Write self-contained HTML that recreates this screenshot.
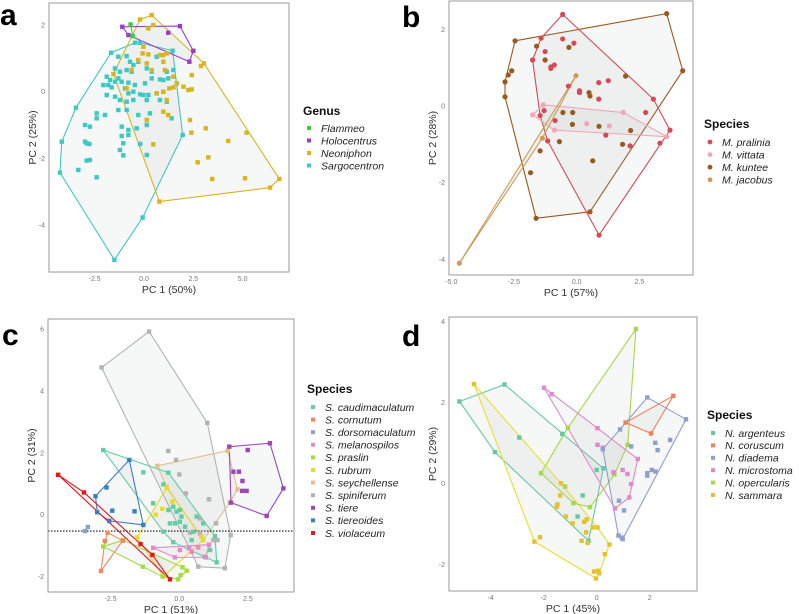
<!DOCTYPE html>
<html><head><meta charset="utf-8"><style>
body{margin:0;background:#fff}
svg{display:block;font-family:"Liberation Sans",sans-serif}
</style></head><body>
<svg id="fig" width="799" height="614" viewBox="0 0 799 614"></svg>
<script>
// ---------- Panel a data ----------
const aSargocentron=[[-1.5,-5.05],[-4.26,-2.43],[-4.17,-1.5],[-3.45,-0.48],[-1.67,1.17],[-0.46,1.47],[-0.2,1.47],[1.45,1.23],[1.49,0.65],[1.96,-1.3],[-0.07,-3.78],[-1.3,1.05],[-0.88,1.07],[-0.71,0.9],[-0.29,0.9],[-1.47,0.7],[-1.22,0.6],[-0.88,0.65],[-0.63,0.6],[-0.54,0.8],[0.14,0.7],[0.39,0.6],[0.64,1.05],[-1.89,0.45],[-1.72,0.35],[-1.47,0.3],[-1.3,0.4],[-2.06,0.2],[-1.81,0.2],[-1.64,0.13],[-1.13,0.3],[-0.79,0.27],[-0.46,0.2],[0.05,0.25],[0.39,0.4],[0.81,0.37],[0.98,0.35],[1.15,0.6],[1.23,0.4],[-0.96,0.1],[-0.79,-0.05],[-0.54,0],[-0.2,-0.08],[-0.03,-0.1],[0.22,-0.1],[0.64,-0.05],[0.98,0],[-1.89,-0.1],[-1.47,-0.15],[-1.22,-0.25],[-0.88,-0.3],[-0.54,-0.25],[0.14,-0.25],[0.81,-0.25],[1.15,-0.3],[-1.3,-0.55],[-0.88,-0.55],[-0.29,-0.7],[0.3,-0.65],[-2.4,-0.65],[-1.98,-0.7],[-2.4,-0.8],[-2.99,-1.0],[-2.74,-1.05],[-1.13,-1.05],[-0.79,-1.15],[-0.37,-1.1],[0.14,-1.0],[1.4,-0.8],[-2.99,-1.5],[-2.91,-1.55],[-2.77,-1.57],[-1.13,-1.33],[-0.79,-1.3],[-1.05,-1.55],[-0.2,-1.57],[-1.22,-1.75],[-1.05,-1.91],[0.14,-1.9],[-2.91,-2.07],[-2.74,-2.05],[-3.33,-2.35],[-2.4,-2.57]];
const aNeoniphon=[[-1.55,0.53],[-0.2,2.17],[0.39,2.3],[3.04,0.85],[2.89,0.77],[5.2,-1.23],[6.86,-2.62],[6.39,-2.88],[0.78,-3.3],[0.47,2.0],[0.22,1.9],[-0.03,1.35],[-0.07,1.15],[0.22,1.12],[0.81,1.1],[0.98,1.1],[1.15,1.15],[-0.29,0.95],[0.14,0.85],[0.98,0.9],[0.39,0.65],[1.06,0.65],[1.49,0.45],[1.66,0.25],[2.42,0.5],[2.0,0.15],[2.25,0.05],[2.42,0.07],[1.28,0.1],[1.49,0.13],[0.64,-0.05],[0.98,0],[1.15,-0.25],[0.98,-0.6],[1.23,-0.7],[0.14,-0.85],[2.33,-0.85],[3.13,-1.1],[2.4,-1.23],[4.27,-1.48],[0.47,-1.58],[3.26,-1.97],[2.72,-2.12],[3.46,-2.62],[5.12,-2.6],[-0.63,0.65],[-0.88,0.1]];
const aHolocentrus=[[-1.1,1.95],[-0.79,1.7],[1.82,1.97],[1.23,1.77],[2.5,1.23],[2.3,0.9]];
const aFlammeo=[[-0.68,2.02],[-0.57,1.67]];
const aTicksX=[-2.5,0,2.5,5],aTicksY=[-4,-2,0,2];
// ---------- Panel b data ----------
const bPralinia=[[-0.56,2.39],[-1.76,1.2],[-1.42,1.77],[3.72,-0.63],[3.32,-0.97],[0.89,-3.37],[-1.16,-0.91],[3.06,0.18],[-0.56,1.75],[-0.11,1.64],[-1.26,1.42],[-0.89,1.07],[-1.03,1.02],[-1.03,0.98],[-0.33,0.52],[0.11,0.4],[0.11,0.35],[0.88,0.61],[1.26,0.66],[0.88,0.18],[-1.3,-0.12],[-1.46,-0.25],[-0.86,-0.38],[2.75,-0.17],[1.16,-0.76],[2.13,-1.04]];
const bVittata=[[-1.76,-0.23],[-1.33,0.03],[1.86,-0.17],[3.59,-0.8],[-0.89,-0.63],[0.4,-0.46],[1.3,-0.52]];
const bKuntee=[[-2.46,1.7],[3.59,2.41],[4.23,0.92],[0.53,-2.76],[-1.62,-2.93],[-2.86,0.24],[-2.86,0.63],[-2.73,0.81],[-2.59,0.92],[-1.6,1.56],[-1.26,1.2],[-0.31,1.53],[0.49,0.35],[0.53,0.26],[1.95,0.78],[-0.55,-0.17],[-0.16,-0.17],[-0.17,-0.48],[0.89,-0.53],[2.15,-0.64],[1.83,-1.0],[0.64,-1.43],[-0.69,-0.93],[-1.46,-1.17],[-1.84,-1.74]];
const bJacobus=[[-4.68,-4.1],[-0.03,0.79],[-1.37,-0.84]];
const bTicksX=[-5,-2.5,0,2.5],bTicksY=[-4,-2,0,2];
// ---------- Panel c data ----------
const cCaudimaculatum=[[-2.77,2.09],[-0.4,1.36],[1.36,-1.54],[0.93,-1.36],[1.3,-0.69],[-0.95,0.37],[-1.31,1.37],[-0.58,0.98],[-0.4,0.15],[-0.22,0.26],[-0.1,0.1],[0.02,0.15],[0.08,-0.06],[-0.34,-0.28],[-0.16,-0.28],[0.02,-0.23],[0.21,-0.39],[-0.58,-0.55],[-0.22,-0.89],[0.51,-0.55],[0.63,-0.06],[0.87,-0.28],[0.45,-0.82],[1.12,-1.14]];
const cCornutum=[[-2.61,-0.58],[-2.71,-0.85],[-2.85,-1.82],[-2.06,-0.84]];
const cDorsomaculatum=[[-3.43,-0.53],[-3.33,-0.4]];
const cMelanospilos=[[-0.95,-1.07],[1.08,-0.97],[0.97,-1.38],[-0.16,-1.38],[0.36,-1.09],[0.02,-1.14],[0.69,-1.06],[0.45,-1.2]];
const cPraslin=[[-2.77,-1.03],[-2.04,-0.82],[-1.33,-1.68],[-0.04,-2.09],[0.27,-1.81],[0.12,-1.7],[0.05,-1.95],[-0.61,-2.0]];
const cRubrum=[[-1.53,-0.73],[-0.46,0.87],[0.87,-0.82],[-0.58,-2.0],[-0.86,0],[-0.62,0.19],[-0.25,0.42],[0.81,-0.71]];
const cSeychellense=[[-0.8,1.58],[1.76,2.07],[2.12,0.82],[1.84,0.39],[0.87,-0.82],[-0.46,0.9]];
const cSpiniferum=[[-2.83,4.76],[-1.1,5.92],[1.02,2.97],[1.87,-0.66],[1.66,-1.73],[0.69,-1.68],[-0.4,2.06],[-0.12,1.77],[0,1.3],[0.24,0.69],[1.08,0.5],[1.34,-0.28],[0.75,-0.12],[0.39,-0.58],[1.24,-0.82],[1.39,-0.82],[0.75,-0.6]];
const cTiere=[[1.82,2.2],[3.3,2.31],[3.79,0.85],[3.18,-0.04],[1.88,0.39],[2.49,2.09],[1.97,1.39],[2.17,1.39],[2.3,1.09],[2.29,0.77],[2.45,0.77]];
const cTiereoides=[[-1.82,1.77],[-3.05,0.6],[-2.99,0.08],[-1.31,-0.33],[-2.65,0.88],[-2.44,0.13],[-1.63,0.11],[-2.55,-0.2]];
const cViolaceum=[[-4.41,1.29],[-3.47,0.72],[-1.41,-0.95],[-0.98,-1.3],[-0.34,-2.09]];
const cRefLine=-0.53;
const cTicksX=[-2.5,0,2.5],cTicksY=[-2,0,2,4,6];
// ---------- Panel d data ----------
const dArgenteus=[[-5.18,2.02],[-3.48,2.44],[0.25,0.37],[-0.31,-1.42],[-3.84,0.77],[-2.92,1.13],[-1.3,1.22],[0,0.33],[-0.53,-0.3],[-0.72,-0.82]];
const dCoruscum=[[1.09,1.5],[2.89,2.16],[2.05,1.23]];
const dDiadema=[[1.91,2.12],[3.37,1.58],[0.98,-1.38],[0.82,-1.29],[0.23,0.84],[0.88,1.33],[1.3,0.91],[2.21,1.0],[2.3,0.82],[2.77,1.07],[2.08,0.33],[1.91,0.25],[1.91,0.19],[2.22,0.29],[0.84,-0.43],[1.03,-0.67],[0.94,-1.34]];
const dMicrostoma=[[-1.99,2.36],[-1.7,2.2],[0.03,1.36],[1.55,0.6],[1.23,-0.35],[0.69,-0.62],[0.03,0.95],[0.63,0.27],[0.98,0.33],[1.16,0.23],[1.3,-0.02],[0.23,0.88]];
const dOpercularis=[[1.48,3.81],[-2.1,0.25],[-0.88,-0.49],[-0.25,-0.59],[1.17,0.95],[-1.09,1.37],[0.67,0.22],[-1.19,-0.08]];
const dSammara=[[-4.63,2.45],[-2.35,-1.44],[-0.03,-2.35],[0.48,-1.51],[0.31,-1.75],[-1.35,0],[-1.38,-0.3],[-1.48,-0.52],[-1.51,-0.58],[-1.16,-0.82],[-0.91,-0.99],[-0.47,-0.95],[-0.38,-0.89],[-0.15,-1.09],[0.03,-1.09],[-0.4,-1.21],[-0.57,-1.42],[-0.34,-1.47],[-2.14,-1.33],[0.06,-2.16],[0.1,-2.22],[-0.1,-2.18]];
const dTicksX=[-4,-2,0,2],dTicksY=[-2,0,2,4];

const NS="http://www.w3.org/2000/svg";
const svg=document.getElementById('fig');
function mk(tag,attrs,parent){const e=document.createElementNS(NS,tag);for(const k in attrs)e.setAttribute(k,attrs[k]);(parent||svg).appendChild(e);return e;}
function hull(pts){
  const p=pts.slice().sort((a,b)=>a[0]-b[0]||a[1]-b[1]);
  if(p.length<3)return p;
  const cr=(o,a,b)=>(a[0]-o[0])*(b[1]-o[1])-(a[1]-o[1])*(b[0]-o[0]);
  const lo=[],up=[];
  for(const q of p){while(lo.length>=2&&cr(lo[lo.length-2],lo[lo.length-1],q)<=0)lo.pop();lo.push(q);}
  for(let i=p.length-1;i>=0;i--){const q=p[i];while(up.length>=2&&cr(up[up.length-2],up[up.length-1],q)<=0)up.pop();up.push(q);}
  up.pop();lo.pop();return lo.concat(up);
}
function panel(cfg){
  const g=mk('g',{});
  
  
  const X=v=>cfg.x0+v*cfg.kx, Y=v=>cfg.y0-v*cfg.ky;
  const [bx1,by1,bx2,by2]=cfg.box;
  const bg=mk('rect',{x:bx1,y:by1,width:bx2-bx1,height:by2-by1,fill:'#fff'},g);
  
  
  // hulls
  cfg.series.forEach(s=>{
    const h=hull(s.pts);
    const poly=mk('polygon',{points:h.map(p=>X(p[0])+','+Y(p[1])).join(' '),fill:'rgba(170,175,175,0.10)',stroke:s.line||s.color,'stroke-width':1.1,'stroke-linejoin':'round'},g);
    
    
  });
  if(cfg.refLine!==undefined){
    const l=mk('line',{x1:bx1,x2:bx2,y1:Y(cfg.refLine),y2:Y(cfg.refLine),stroke:'#111','stroke-width':1.1,'stroke-dasharray':'1.5,1.5'},g);
    
    
  }
  cfg.series.forEach(s=>{
    s.pts.forEach(p=>{
      let m;
      if(cfg.circle) m=mk('circle',{cx:X(p[0]),cy:Y(p[1]),r:2.6,fill:s.color},g);
      else m=mk('rect',{x:X(p[0])-2.2,y:Y(p[1])-2.2,width:4.4,height:4.4,fill:s.color},g);
      
      
    });
  });
  const fr=mk('rect',{x:bx1,y:by1,width:bx2-bx1,height:by2-by1,fill:'none',stroke:'#9a9a9a','stroke-width':1},g);
  
  
  cfg.ticksX.forEach(v=>{
    const t=mk('text',{x:X(v),y:by2+9,'font-size':7,fill:'#777','text-anchor':'middle'},g);
    t.textContent=cfg.fmtX?v.toFixed(1):String(v);
    
    
  });
  cfg.ticksY.forEach(v=>{
    const t=mk('text',{x:bx1-4,y:Y(v)+2.5,'font-size':7,fill:'#777','text-anchor':'end'},g);
    t.textContent=String(v);
    
    
  });
  const xt=mk('text',{x:(bx1+bx2)/2,y:by2+21,'font-size':10.5,fill:'#333','text-anchor':'middle'},g);
  xt.textContent=cfg.xTitle;
  
  
  const ycx=bx1-13, ycy=(by1+by2)/2;
  const yt=mk('text',{x:ycx,y:ycy,'font-size':10.5,fill:'#333','text-anchor':'middle',transform:`rotate(-90 ${ycx} ${ycy})`},g);
  yt.textContent=cfg.yTitle;
  
  
  const lb=mk('text',{x:cfg.label[1],y:cfg.label[2],'font-size':30,'font-weight':'bold',fill:'#000'},g);
  lb.textContent=cfg.label[0];
  
  
  // legend
  const lg=mk('g',{},g);
  
  
  const [lx,ly,step,ty]=cfg.legend;
  const tt=mk('text',{x:lx-6,y:ty,'font-size':12,'font-weight':'bold',fill:'#111'},lg);
  tt.textContent=cfg.legendTitle;
  
  
  cfg.series.slice().sort((a,b)=>a.order-b.order).forEach((s,i)=>{
    const yy=ly+i*step;
    let m;
    if(cfg.circle) m=mk('circle',{cx:lx,cy:yy,r:2.4,fill:s.color},lg);
    else m=mk('rect',{x:lx-2,y:yy-2,width:4,height:4,fill:s.color},lg);
    
    
    const t=mk('text',{x:lx+12,y:yy+3.8,'font-size':10.5,'font-style':'italic',fill:'#222'},lg);
    t.textContent=s.label;
    
    
  });
}
panel({name:'panel-a',x0:144,kx:19.73,y0:91.7,ky:33.3,box:[49,3,289,272],ticksX:aTicksX,ticksY:aTicksY,fmtX:true,
  xTitle:'PC 1 (50%)',yTitle:'PC 2 (25%)',label:['a',0,25],legendTitle:'Genus',legend:[309,128,12.5,115],
  series:[
    {key:'sargocentron',label:'Sargocentron',color:'#3cc8c3',pts:aSargocentron,order:3},
    {key:'neoniphon',label:'Neoniphon',color:'#d8b51c',pts:aNeoniphon,order:2},
    {key:'holocentrus',label:'Holocentrus',color:'#9a3ccc',pts:aHolocentrus,order:1},
    {key:'flammeo',label:'Flammeo',color:'#3ad13a',pts:aFlammeo,order:0}]});
panel({name:'panel-b',x0:576.7,kx:25.07,y0:106,ky:38.33,box:[449,1,693,275],ticksX:bTicksX,ticksY:bTicksY,fmtX:true,circle:true,
  xTitle:'PC 1 (57%)',yTitle:'PC 2 (28%)',label:['b',402,27],legendTitle:'Species',legend:[710,142,12.6,128],
  series:[
    {key:'m-kuntee',label:'M. kuntee',color:'#9a5a1e',pts:bKuntee,order:2},
    {key:'m-pralinia',label:'M. pralinia',color:'#d64a58',pts:bPralinia,order:0},
    {key:'m-vittata',label:'M. vittata',color:'#f2a7b6',pts:bVittata,order:1},
    {key:'m-jacobus',label:'M. jacobus',color:'#cf9a56',pts:bJacobus,order:3}]});
panel({name:'panel-c',x0:179.3,kx:27.47,y0:514.7,ky:30.93,box:[48,319,294,592],ticksX:cTicksX,ticksY:cTicksY,fmtX:true,refLine:cRefLine,
  xTitle:'PC 1 (51%)',yTitle:'PC 2 (31%)',label:['c',2,345],legendTitle:'Species',legend:[313,407,12.6,393],
  series:[
    {key:'s-spiniferum',label:'S. spiniferum',color:'#b3b3b3',pts:cSpiniferum,order:7},
    {key:'s-seychellense',label:'S. seychellense',color:'#e2c08f',pts:cSeychellense,order:6},
    {key:'s-caudimaculatum',label:'S. caudimaculatum',color:'#5fcfa0',pts:cCaudimaculatum,order:0},
    {key:'s-tiere',label:'S. tiere',color:'#9b47b5',pts:cTiere,order:8},
    {key:'s-tiereoides',label:'S. tiereoides',color:'#3a80c0',pts:cTiereoides,order:9},
    {key:'s-rubrum',label:'S. rubrum',color:'#eadb1e',pts:cRubrum,order:5},
    {key:'s-melanospilos',label:'S. melanospilos',color:'#e38ac9',pts:cMelanospilos,order:3},
    {key:'s-praslin',label:'S. praslin',color:'#a6dc3e',pts:cPraslin,order:4},
    {key:'s-cornutum',label:'S. cornutum',color:'#f08a5d',pts:cCornutum,order:1},
    {key:'s-dorsomaculatum',label:'S. dorsomaculatum',color:'#8da0cb',pts:cDorsomaculatum,order:2},
    {key:'s-violaceum',label:'S. violaceum',color:'#e8161c',pts:cViolaceum,order:10}]});
panel({name:'panel-d',x0:596.7,kx:26.5,y0:483.3,ky:40.5,box:[449,317,697,591],ticksX:dTicksX,ticksY:dTicksY,
  xTitle:'PC 1 (45%)',yTitle:'PC 2 (29%)',label:['d',402,346],legendTitle:'Species',legend:[713,433,12.4,419],
  series:[
    {key:'n-argenteus',label:'N. argenteus',color:'#62c9a3',pts:dArgenteus,order:0},
    {key:'n-sammara',label:'N. sammara',color:'#e3c22c',line:'#ecdf2a',pts:dSammara,order:5},
    {key:'n-opercularis',label:'N. opercularis',color:'#a4da48',pts:dOpercularis,order:4},
    {key:'n-microstoma',label:'N. microstoma',color:'#e088cc',pts:dMicrostoma,order:3},
    {key:'n-diadema',label:'N. diadema',color:'#8ea0cc',pts:dDiadema,order:2},
    {key:'n-coruscum',label:'N. coruscum',color:'#f27f55',pts:dCoruscum,order:1}]});
</script>
</body></html>
